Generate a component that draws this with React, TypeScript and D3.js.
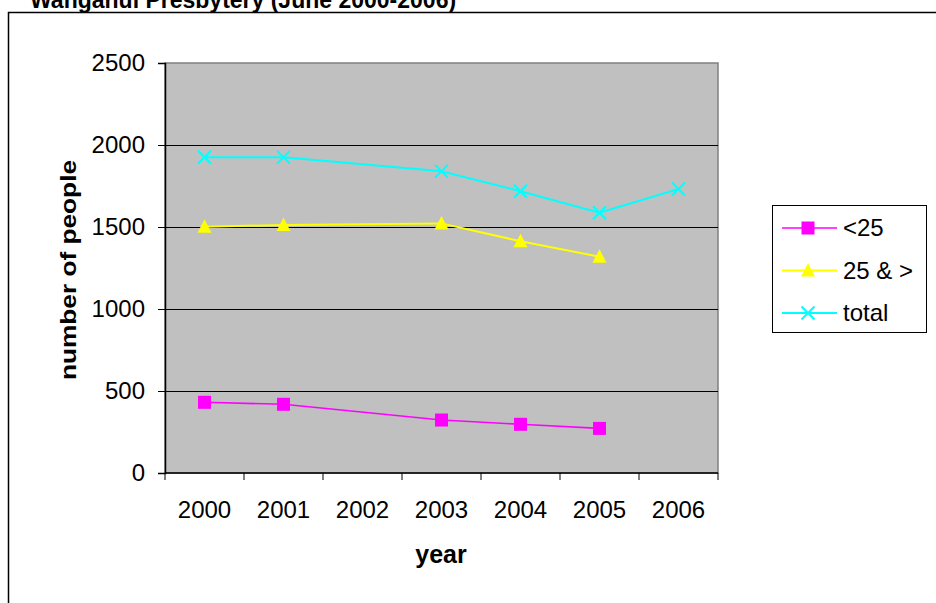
import React, { useEffect, useRef } from 'react';
import * as d3 from 'd3';

const years = ['2000', '2001', '2002', '2003', '2004', '2005', '2006'];
const under25 = [431, 419, null, 323, 297, 272, null];
const over25 = [1502, 1512, null, 1522, 1413, 1319, null];
const total = [1925, 1925, null, 1840, 1718, 1587, 1732];
const yTicks = [0, 500, 1000, 1500, 2000, 2500];

const seriesList = [
  { name: '<25', values: under25, color: '#FF00FF', marker: 'square', width: 1.6 },
  { name: '25 & >', values: over25, color: '#FFFF00', marker: 'triangle', width: 2 },
  { name: 'total', values: total, color: '#00FFFF', marker: 'cross', width: 2 },
];

const W = 936;
const H = 603;
const font = 'Arial, "Liberation Sans", sans-serif';

function drawMarker(g: d3.Selection<SVGGElement, unknown, null, undefined>, type: string, x: number, y: number, color: string) {
  if (type === 'square') {
    g.append('rect')
      .attr('x', x - 6.5).attr('y', y - 6.5)
      .attr('width', 13).attr('height', 13)
      .attr('fill', color);
  } else if (type === 'triangle') {
    g.append('path')
      .attr('d', `M${x},${y - 7.5}L${x + 7},${y + 6}L${x - 7},${y + 6}Z`)
      .attr('fill', color);
  } else {
    const s = 6.5;
    g.append('path')
      .attr('d', `M${x - s},${y - s}L${x + s},${y + s}M${x - s},${y + s}L${x + s},${y - s}`)
      .attr('stroke', color)
      .attr('stroke-width', 2)
      .attr('fill', 'none');
  }
}

export default function App() {
  const svgRef = useRef<SVGSVGElement>(null);

  useEffect(() => {
    document.body.style.margin = '0';
    if (!svgRef.current) return;
    const svg = d3.select(svgRef.current);
    svg.selectAll('*').remove();

    const margin = { top: 63, left: 165, right: 218, bottom: 130 };
    const plotW = W - margin.left - margin.right;
    const plotH = H - margin.top - margin.bottom;

    // outer chart border (runs off the picture)
    svg.append('rect')
      .attr('x', 8.5).attr('y', 12.5)
      .attr('width', 1000).attr('height', 700)
      .attr('fill', '#fff')
      .attr('stroke', '#000')
      .attr('stroke-width', 1.5);

    svg.append('text')
      .attr('x', 30).attr('y', 8)
      .attr('font-family', font)
      .attr('font-weight', 'bold')
      .attr('font-size', 23)
      .text('Wanganui Presbytery (June 2000-2006)');

    const x = d3.scaleBand().domain(years).range([0, plotW]).paddingInner(0).paddingOuter(0);
    const y = d3.scaleLinear().domain([0, 2500]).range([plotH, 0]);

    const plot = svg.append('g').attr('transform', `translate(${margin.left},${margin.top})`);

    plot.append('rect')
      .attr('width', plotW).attr('height', plotH)
      .attr('fill', '#C0C0C0')
      .attr('stroke', '#808080')
      .attr('stroke-width', 1.5);

    // gridlines
    plot.selectAll('line.grid')
      .data(yTicks.filter(t => t > 0 && t < 2500))
      .join('line')
      .attr('x1', 0).attr('x2', plotW)
      .attr('y1', d => Math.round(y(d)) + 0.5).attr('y2', d => Math.round(y(d)) + 0.5)
      .attr('stroke', '#000')
      .attr('stroke-width', 1);

    // y axis
    const yAxis = plot.append('g').call(
      d3.axisLeft(y).tickValues(yTicks).tickSize(7).tickPadding(13).tickFormat(d3.format('d'))
    );
    yAxis.select('.domain').attr('stroke', '#000').attr('stroke-width', 1.5);
    yAxis.selectAll('.tick line').attr('stroke', '#000');
    yAxis.selectAll('text').attr('font-family', font).attr('font-size', 24).attr('fill', '#000');

    // x axis with ticks at category boundaries
    const xAxis = plot.append('g').attr('transform', `translate(0,${plotH})`);
    xAxis.append('line')
      .attr('x1', 0).attr('x2', plotW)
      .attr('stroke', '#000').attr('stroke-width', 1.5);
    const bounds = years.map(yr => x(yr) as number).concat([plotW]);
    xAxis.selectAll('line.tk')
      .data(bounds)
      .join('line')
      .attr('x1', d => d).attr('x2', d => d)
      .attr('y1', 0).attr('y2', 7)
      .attr('stroke', '#000');
    xAxis.selectAll('text')
      .data(years)
      .join('text')
      .attr('x', d => (x(d) as number) + x.bandwidth() / 2)
      .attr('y', 45)
      .attr('text-anchor', 'middle')
      .attr('font-family', font)
      .attr('font-size', 24)
      .text(d => d);

    // axis titles
    svg.append('text')
      .attr('x', 441).attr('y', 563)
      .attr('text-anchor', 'middle')
      .attr('font-family', font).attr('font-weight', 'bold').attr('font-size', 25)
      .text('year');
    svg.append('text')
      .attr('transform', `translate(76,${margin.top + plotH / 2 + 2}) rotate(-90)`)
      .attr('text-anchor', 'middle')
      .attr('font-family', font).attr('font-weight', 'bold').attr('font-size', 22)
      .attr('textLength', 220)
      .attr('lengthAdjust', 'spacingAndGlyphs')
      .text('number of people');

    // series
    seriesList.forEach(s => {
      const pts = s.values
        .map((v, i) => ({ v, yr: years[i] }))
        .filter(p => p.v !== null) as { v: number; yr: string }[];
      const line = d3.line<{ v: number; yr: string }>()
        .x(p => (x(p.yr) as number) + x.bandwidth() / 2)
        .y(p => y(p.v));
      plot.append('path')
        .attr('d', line(pts))
        .attr('fill', 'none')
        .attr('stroke', s.color)
        .attr('stroke-width', s.width);
      const mg = plot.append('g');
      pts.forEach(p => drawMarker(mg, s.marker, (x(p.yr) as number) + x.bandwidth() / 2, y(p.v), s.color));
    });

    // legend
    const lg = svg.append('g').attr('transform', 'translate(772,205)');
    lg.append('rect')
      .attr('x', 0.5).attr('y', 0.5)
      .attr('width', 154).attr('height', 127)
      .attr('fill', '#fff')
      .attr('stroke', '#000')
      .attr('stroke-width', 1);
    seriesList.forEach((s, i) => {
      const cy = 23 + i * 42.5;
      lg.append('line')
        .attr('x1', 10).attr('x2', 65)
        .attr('y1', cy).attr('y2', cy)
        .attr('stroke', s.color)
        .attr('stroke-width', s.width);
      const mg = lg.append('g');
      drawMarker(mg, s.marker, 36, cy, s.color);
      lg.append('text')
        .attr('x', 71).attr('y', cy + 8)
        .attr('font-family', font)
        .attr('font-size', 24)
        .text(s.name);
    });
  }, []);

  return <svg ref={svgRef} width={W} height={H} style={{ display: 'block', background: '#fff' }} />;
}
